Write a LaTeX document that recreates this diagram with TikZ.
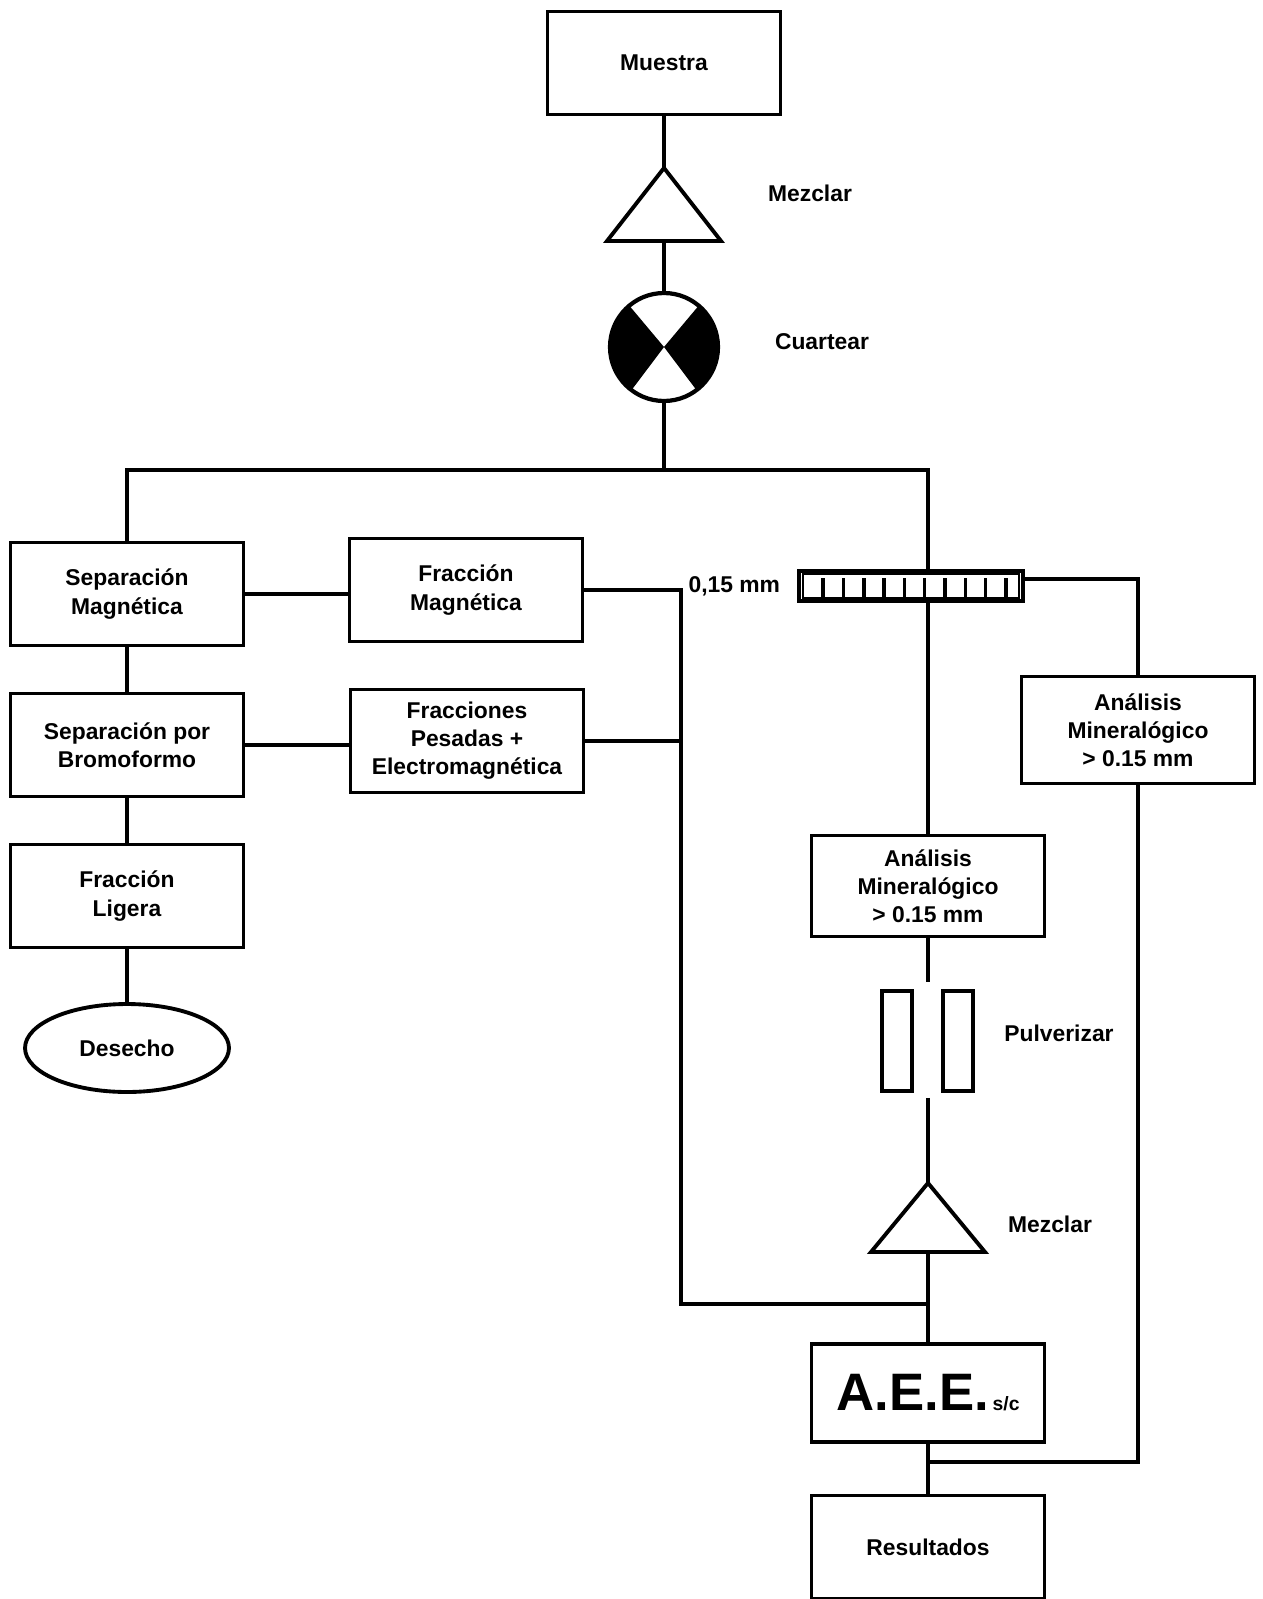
\documentclass[tikz,border=0pt]{standalone}
\usepackage{fontspec}
\setmainfont{Liberation Sans}
\usetikzlibrary{positioning,calc,shapes.geometric}

\begin{document}
\begin{tikzpicture}[x=0.02cm,y=-0.02cm,line width=2.2pt,
  box/.style={draw,line width=2.2pt,minimum width=4.66cm,minimum height=2.06cm,
    align=center,inner sep=2pt,font=\bfseries\fontsize{13}{16}\selectfont},
  lbl/.style={font=\bfseries\fontsize{13}{16}\selectfont,inner sep=0pt},
  pill/.style={draw,line width=2.2pt,minimum width=0.6cm,minimum height=2cm,inner sep=0pt}]
  \useasboundingbox (0,0) rectangle (1263,1599);
  % main column
  \node[box] (muestra) at (664,63) {Muestra};
  \coordinate (mezA) at (664,168);
  \coordinate (mezAb) at (664,241);
  \draw (mezA) -- ++(57,73) -- ++(-114,0) -- cycle;
  \node[lbl] at (810,193) {Mezclar};
  \node[circle,draw,line width=2.4pt,minimum size=2.16cm,inner sep=0pt] (cuartear) at (664,347) {};
  \fill (cuartear.center) -- ++(130:1.05cm) arc[start angle=130,end angle=233,radius=1.05cm] -- cycle;
  \fill (cuartear.center) -- ++(-53:1.05cm) arc[start angle=-53,end angle=50,radius=1.05cm] -- cycle;
  \node[lbl] at (822,342) {Cuartear};
  \coordinate (split) at (664,470);
  % left branch
  \node[box] (sepmag) at (127,594) {Separación\\Magnética};
  \node[box] (fracmag) at (466,590) {Fracción\\Magnética};
  \node[box] (sepbrom) at (127,745) {Separación por\\Bromoformo};
  \node[box] (fracpes) at (467,741) {Fracciones\\Pesadas +\\Electromagnética};
  \node[box] (fraclig) at (127,896) {Fracción\\Ligera};
  \node[ellipse,draw,line width=2.2pt,minimum width=4.08cm,minimum height=1.76cm,
    font=\bfseries\fontsize{13}{16}\selectfont] (desecho) at (127,1048) {Desecho};
  % right branch
  \node[draw,line width=2.4pt,minimum width=4.48cm,minimum height=0.6cm,inner sep=0pt] (tamiz) at (911,586) {};
  \draw[line width=1.4pt] ($(tamiz.south west)+(6,-5)$) rectangle ($(tamiz.north east)+(-6,5)$);
  \foreach \i in {1,...,10}
    \draw[line width=2pt] ($(tamiz.south west)+(6+\i*20.3,-5)$) -- ++(0,-20);
  \node[lbl,left=0.3cm of tamiz] (malla) {0,15 mm};
  \node[box,minimum height=2.14cm] (anaDer) at (1138,730) {Análisis\\Mineralógico\\> 0.15 mm};
  \node[box,minimum height=2.02cm] (anaCen) at (928,886) {Análisis\\Mineralógico\\> 0.15 mm};
  \node[minimum height=2.24cm,inner sep=0pt] (pulv) at (928,1040) {};
  \node[pill] (pulvL) at (897,1041) {};
  \node[pill] (pulvR) at (958,1041) {};
  \node[lbl] at (1059,1033) {Pulverizar};
  \coordinate (mezB) at (928,1183);
  \coordinate (mezBb) at (928,1252);
  \draw (mezB) -- ++(57,69) -- ++(-114,0) -- cycle;
  \node[lbl] at (1050,1224) {Mezclar};
  \node[box,minimum height=1.96cm] (aee) at (928,1393)
    {{\fontsize{30}{30}\selectfont A.E.E.}\,{\fontsize{11}{11}\selectfont s/c}};
  \node[box] (resultados) at (928,1547) {Resultados};
  \coordinate (bus) at (681,1304);
  \coordinate (join) at (928,1304);
  \coordinate (join2) at (928,1462);
  % connectors
  \draw (muestra.south) -- (mezA);
  \draw (mezAb) -- (cuartear.north);
  \draw (cuartear.south) -- (split);
  \draw (sepmag.north) |- (split) -| (tamiz.north -| anaCen.north);
  \draw (sepmag.east) -- (sepmag.east -| fracmag.west);
  \draw (sepmag.south) -- (sepbrom.north);
  \draw (sepbrom.east) -- (sepbrom.east -| fracpes.west);
  \draw (sepbrom.south) -- (fraclig.north);
  \draw (fraclig.south) -- (desecho.north);
  \draw (fracmag.east) -| (bus) -- (join);
  \draw (fracpes.east) -- (fracpes.east -| bus);
  \draw ([yshift=0.14cm]tamiz.east) -| (anaDer.north);
  \draw (tamiz.south -| anaCen.north) -- (anaCen.north);
  \draw (anaCen.south) -- (pulv.north);
  \draw (pulv.south) -- (mezB);
  \draw (mezBb) -- (aee.north);
  \draw (aee.south) -- (resultados.north);
  \draw (anaDer.south) |- (join2);
\end{tikzpicture}
\end{document}
